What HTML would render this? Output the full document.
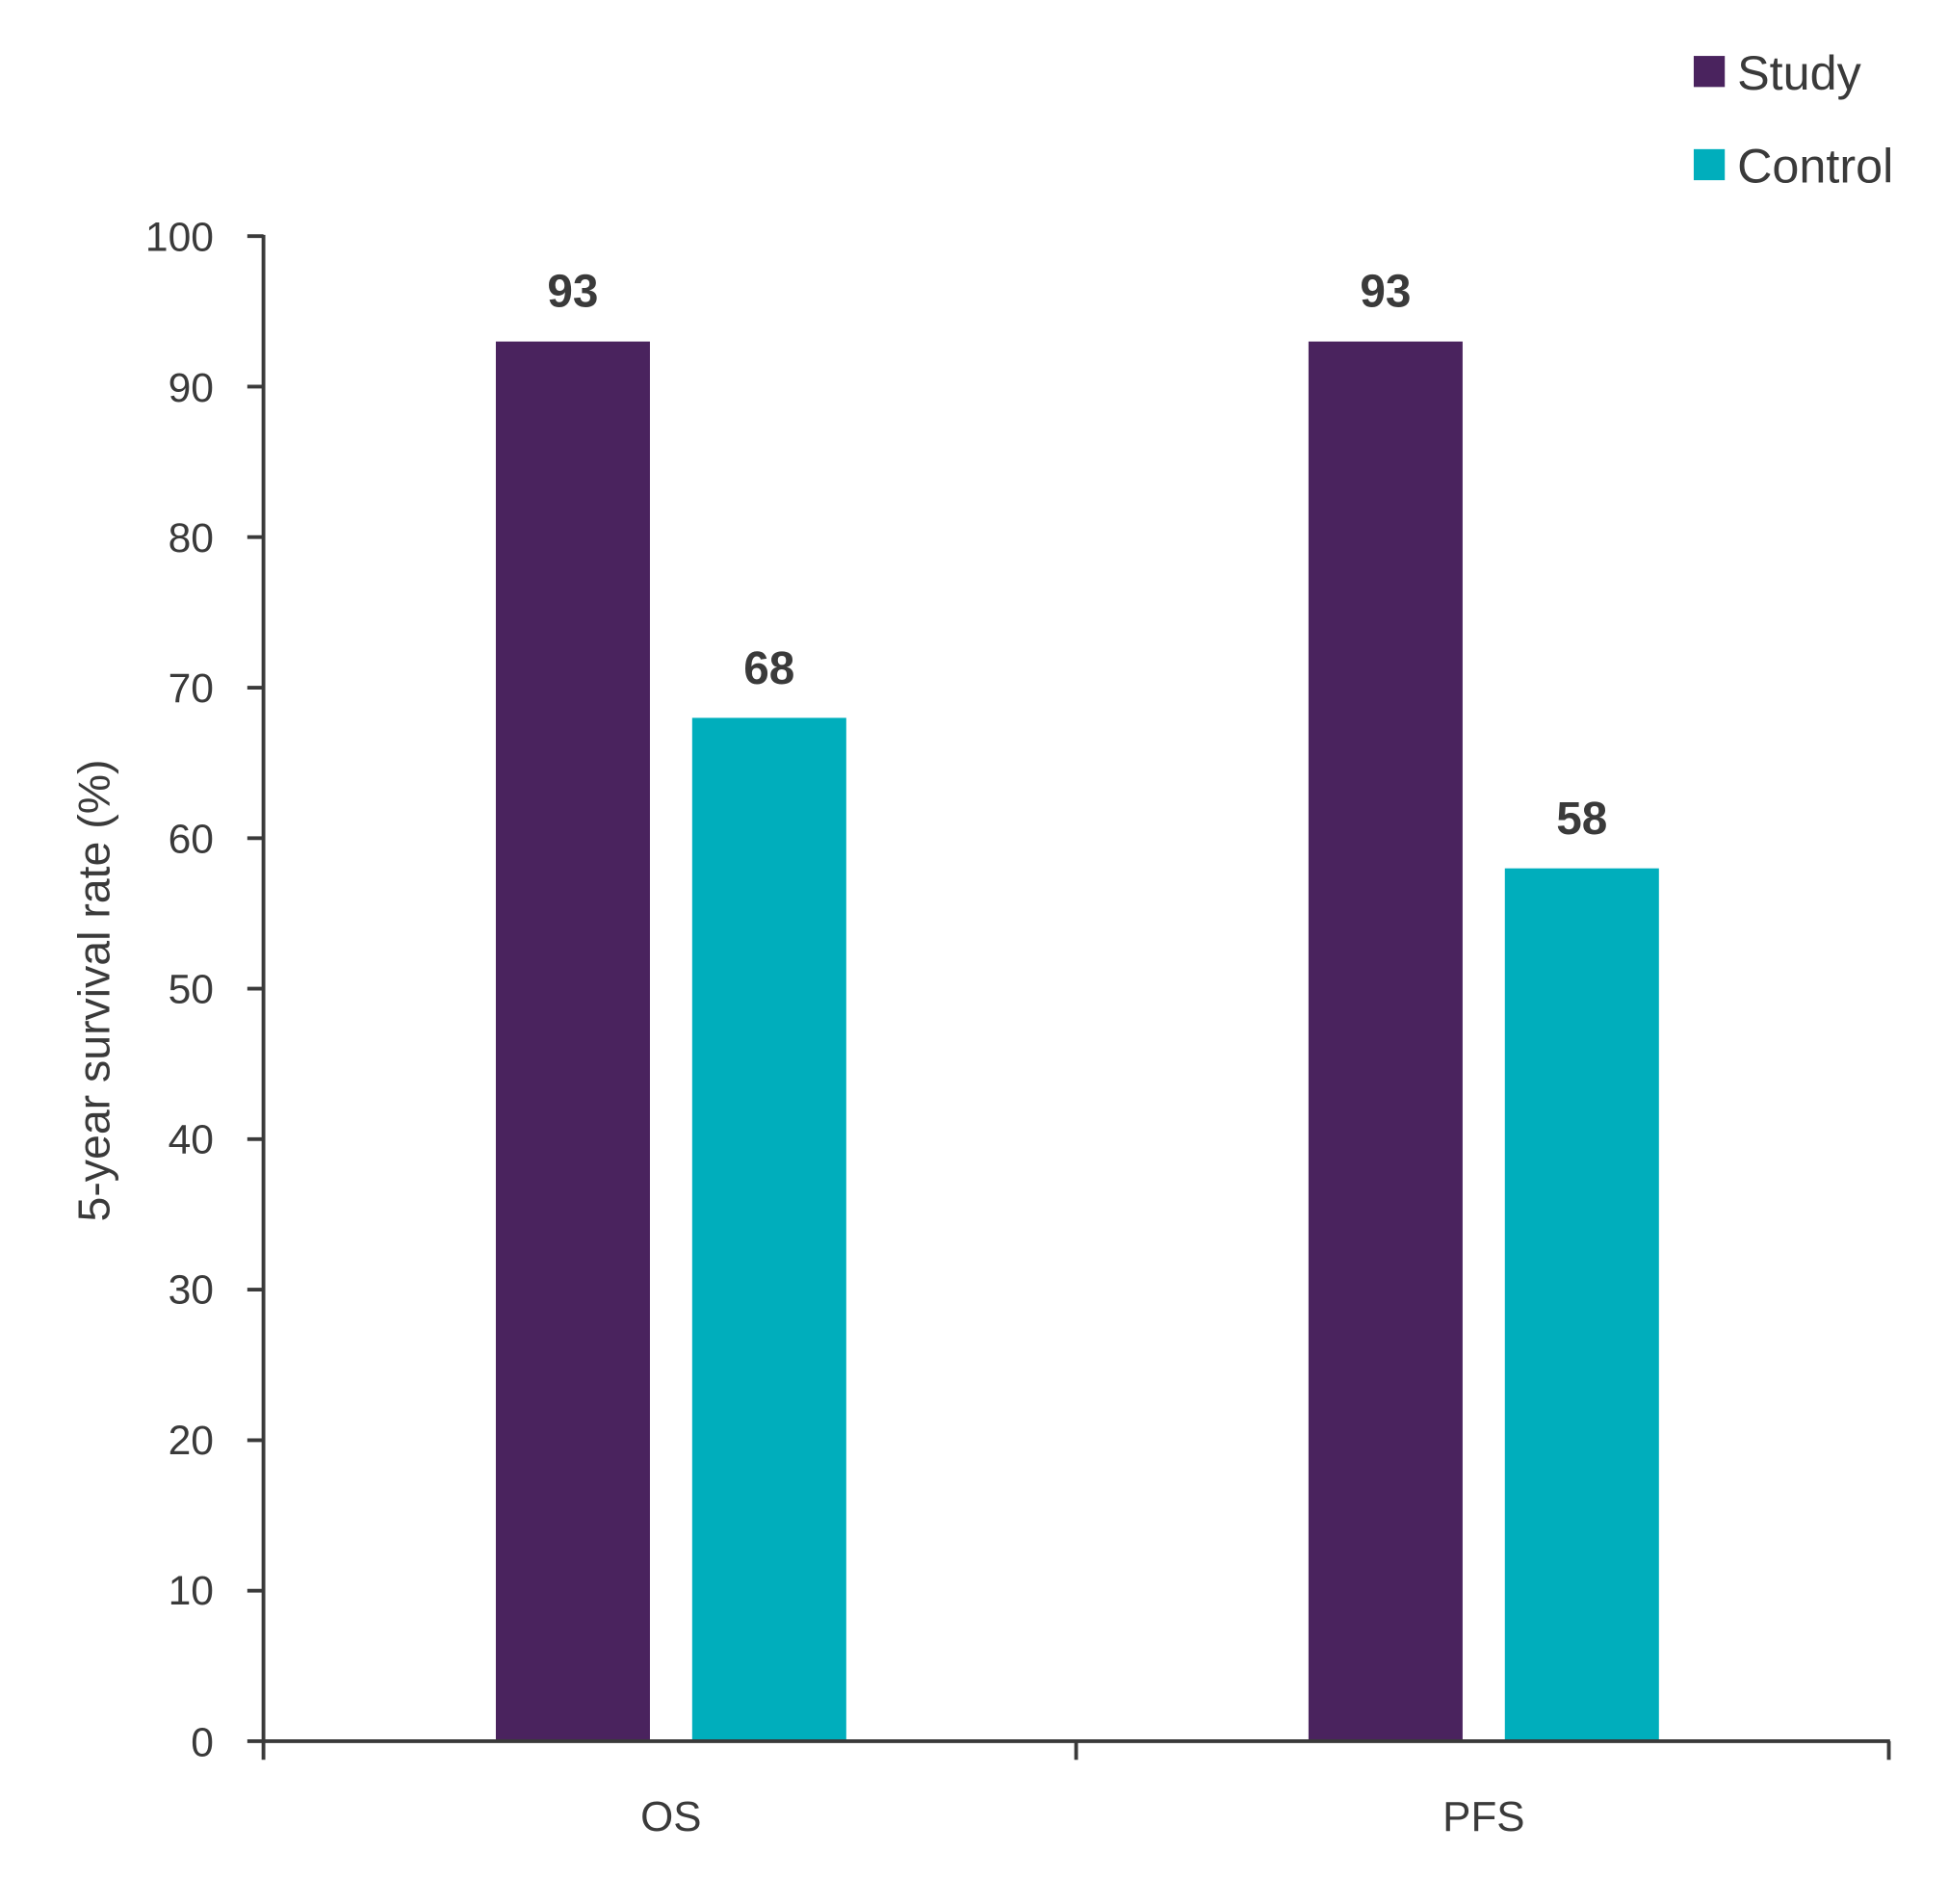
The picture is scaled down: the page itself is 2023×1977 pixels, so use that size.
<!DOCTYPE html>
<html><head><style>html,body{margin:0;padding:0;background:#fff}svg{display:block}</style></head>
<body>
<svg width="2023" height="1977" viewBox="0 0 1567.6 1532" xmlns="http://www.w3.org/2000/svg" font-family="'Liberation Sans', sans-serif" fill="#3a3a3a">
<rect x="0" y="0" width="1567.6" height="1532" fill="#fff"/>
<rect x="399" y="274.8" width="124" height="1126.2" fill="#4a235e"/>
<rect x="557" y="577.6" width="124" height="823.4" fill="#00aebc"/>
<rect x="1053" y="274.8" width="124" height="1126.2" fill="#4a235e"/>
<rect x="1211" y="698.7" width="124" height="702.3" fill="#00aebc"/>
<g stroke="#3a3a3a" stroke-width="3" fill="none">
<line x1="212" y1="189" x2="212" y2="1416"/>
<line x1="199" y1="1401" x2="1521" y2="1401"/>
<line x1="866" y1="1401" x2="866" y2="1416"/>
<line x1="1520" y1="1401" x2="1520" y2="1416"/>
<path d="M199 190H212M199 311.1H212M199 432.2H212M199 553.3H212M199 674.4H212M199 795.5H212M199 916.6H212M199 1037.7H212M199 1158.8H212M199 1279.9H212"/>
</g>
<g font-size="33" text-anchor="end">
<text x="172" y="202">100</text>
<text x="172" y="323">90</text>
<text x="172" y="444">80</text>
<text x="172" y="565">70</text>
<text x="172" y="686">60</text>
<text x="172" y="807">50</text>
<text x="172" y="928">40</text>
<text x="172" y="1049">30</text>
<text x="172" y="1170">20</text>
<text x="172" y="1291">10</text>
<text x="172" y="1413">0</text>
</g>
<g font-size="34" text-anchor="middle">
<text x="540" y="1473">OS</text>
<text x="1194" y="1473">PFS</text>
</g>
<text transform="translate(88,797) rotate(-90)" font-size="36" text-anchor="middle">5-year survival rate (%)</text>
<g font-size="37" font-weight="bold" text-anchor="middle">
<text x="461" y="247">93</text>
<text x="619" y="550">68</text>
<text x="1115" y="247">93</text>
<text x="1273" y="671">58</text>
</g>
<rect x="1363" y="45" width="25" height="25" fill="#4a235e"/>
<rect x="1363" y="120" width="25" height="25" fill="#00aebc"/>
<g font-size="39">
<text x="1398" y="72">Study</text>
<text x="1398" y="147">Control</text>
</g>
</svg>
</body></html>
